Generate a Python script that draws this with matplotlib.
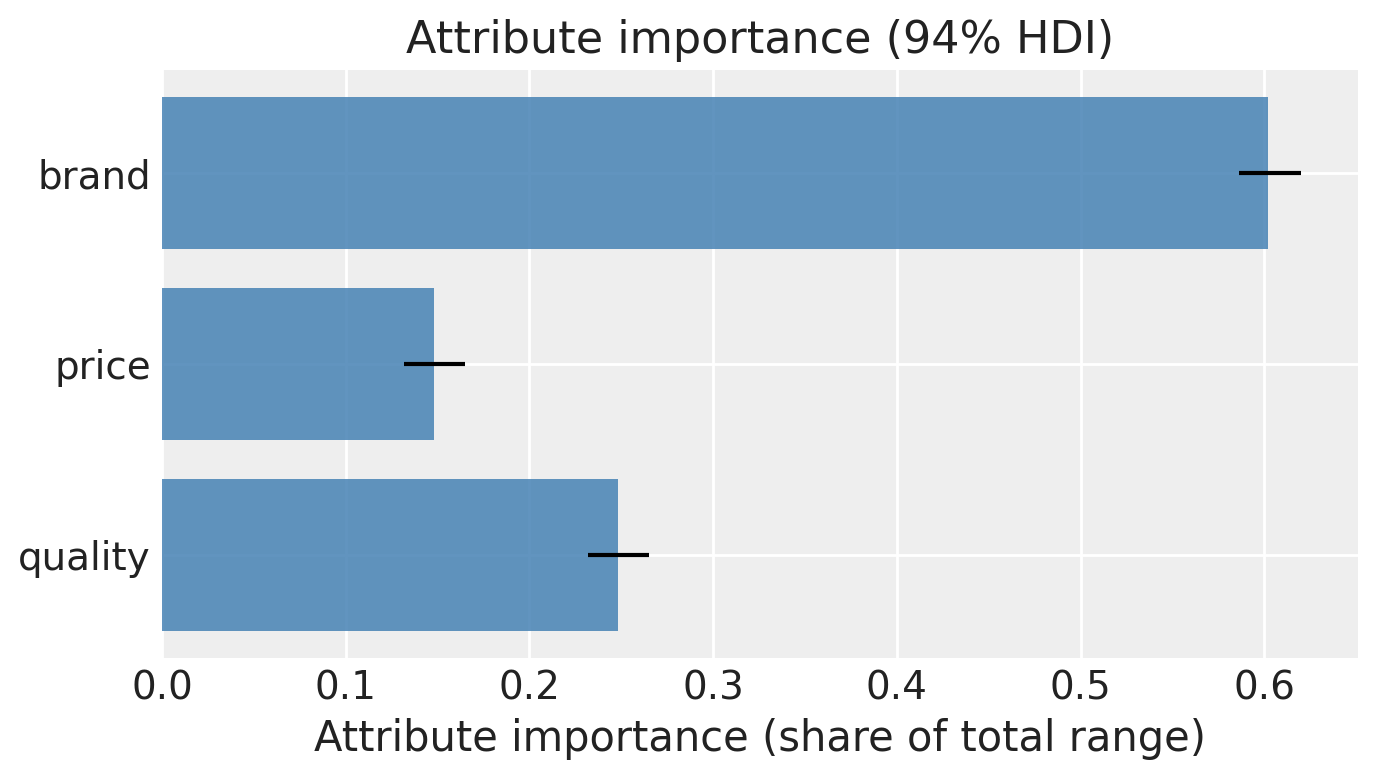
import matplotlib
matplotlib.use("Agg")
import matplotlib.pyplot as plt
import numpy as np

attributes = ["brand", "price", "quality"]
importance = [0.602, 0.148, 0.248]
hdi_low = [0.586, 0.1315, 0.232]
hdi_high = [0.620, 0.165, 0.265]

plt.rcParams.update({
    "font.family": "DejaVu Sans",
    "axes.facecolor": "#eeeeee",
    "axes.edgecolor": "#eeeeee",
    "axes.grid": True,
    "grid.color": "white",
    "grid.linewidth": 1.0,
    "axes.axisbelow": True,
    "text.color": "#222222",
    "axes.labelcolor": "#222222",
    "xtick.color": "#222222",
    "ytick.color": "#222222",
})

fig = plt.figure(figsize=(13.79 / 2, 7.77 / 2), dpi=200)
ax = fig.add_axes([162 / 1379, 1 - 658 / 777, (1358 - 162) / 1379, (658 - 70) / 777])
for s in ax.spines.values():
    s.set_visible(False)

y = np.arange(len(attributes))
ax.barh(y, importance, height=0.8, color="steelblue", alpha=0.85)
ax.hlines(y, hdi_low, hdi_high, color="black", lw=1.5)
ax.set_yticks(y)
ax.set_yticklabels(attributes)
ax.invert_yaxis()
ax.tick_params(axis="both", length=0, labelsize=14, pad=4)
ax.set_xlabel("Attribute importance (share of total range)", fontsize=15, labelpad=4)
ax.set_title("Attribute importance (94% HDI)", fontsize=16, pad=6)

fig.savefig("out.png", dpi=200)
